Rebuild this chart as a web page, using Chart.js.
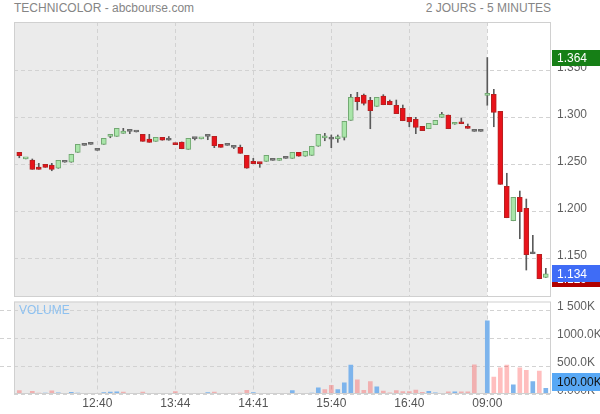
<!DOCTYPE html>
<html>
<head>
<meta charset="utf-8">
<script src="https://cdn.jsdelivr.net/npm/chart.js@4.4.1/dist/chart.umd.min.js"></script>
<style>
  body{margin:0;background:#fff;width:600px;height:414px;position:relative;overflow:hidden;font-family:"Liberation Sans",Arial,sans-serif;}
  .txt{position:absolute;font-size:12px;line-height:14px;color:#858585;white-space:nowrap;}
  #priceBox{position:absolute;left:0;top:0;width:600px;height:298px;}
  #volBox{position:absolute;left:0;top:298px;width:600px;height:116px;}
</style>
</head>
<body>
<div class="txt" style="left:14px;top:1px;">TECHNICOLOR - abcbourse.com</div>
<div class="txt" style="right:49px;top:1px;">2 JOURS - 5 MINUTES</div>
<div id="priceBox"><canvas id="priceChart"></canvas></div>
<div id="volBox"><canvas id="volChart"></canvas></div>
<div class="txt" style="left:19px;top:303px;color:#8ec1f0;">VOLUME</div>
<script>
// 5 minute candles, two sessions (index 72 = 09:00 of the second day)
const opens  = [1.2632,1.2562,1.2550,1.2476,1.2504,1.2494,1.2462,1.2526,1.2526,1.2632,
                1.2706,1.2717,1.2653,1.2717,1.2802,1.2802,1.2834,1.2855,1.2848,1.2823,
                1.2773,1.2749,1.2791,1.2760,1.2731,1.2742,1.2664,1.2777,1.2775,1.2802,
                1.2802,1.2717,1.2706,1.2685,1.2685,1.2600,1.2536,1.2526,1.2536,1.2547,
                1.2547,1.2568,1.2568,1.2632,1.2590,1.2600,1.2696,1.2785,1.2773,1.2777,
                1.2791,1.2972,1.3217,1.3241,1.3185,1.3121,1.3231,1.3174,1.3132,1.3100,
                1.3004,1.2983,1.2908,1.2883,1.2926,1.3004,1.3029,1.2930,1.2954,1.2908,
                1.2855,1.2855,1.3238,1.3249,1.3068,1.2270,1.1904,1.2153,1.2036,1.1553,
                1.1547,1.1300];
const highs  = [1.2632,1.2566,1.2561,1.2515,1.2504,1.2515,1.2547,1.2526,1.2611,1.2717,
                1.2706,1.2717,1.2653,1.2781,1.2823,1.2887,1.2887,1.2855,1.2848,1.2823,
                1.2823,1.2791,1.2791,1.2800,1.2731,1.2742,1.2781,1.2777,1.2779,1.2802,
                1.2802,1.2717,1.2706,1.2685,1.2709,1.2600,1.2568,1.2526,1.2600,1.2547,
                1.2568,1.2568,1.2632,1.2632,1.2643,1.2696,1.2823,1.2834,1.2816,1.2816,
                1.2962,1.3249,1.3270,1.3252,1.3217,1.3217,1.3245,1.3188,1.3188,1.3135,
                1.3004,1.3004,1.2908,1.2940,1.2972,1.3057,1.3029,1.2951,1.2997,1.2933,
                1.2855,1.2855,1.3640,1.3302,1.3068,1.2409,1.2153,1.2220,1.2135,1.1749,
                1.1547,1.1398];
const lows   = [1.2574,1.2562,1.2451,1.2451,1.2472,1.2436,1.2462,1.2526,1.2526,1.2632,
                1.2706,1.2717,1.2653,1.2717,1.2787,1.2802,1.2834,1.2830,1.2848,1.2749,
                1.2738,1.2749,1.2760,1.2760,1.2713,1.2670,1.2664,1.2763,1.2775,1.2766,
                1.2681,1.2685,1.2706,1.2671,1.2621,1.2462,1.2511,1.2472,1.2536,1.2547,
                1.2547,1.2568,1.2568,1.2590,1.2590,1.2600,1.2696,1.2755,1.2681,1.2738,
                1.2763,1.2972,1.3082,1.3135,1.2883,1.3121,1.3138,1.3138,1.3043,1.2968,
                1.2904,1.2830,1.2862,1.2883,1.2926,1.3004,1.2883,1.2930,1.2936,1.2887,
                1.2855,1.2855,1.3132,1.2904,1.2291,1.1936,1.1904,1.1713,1.1380,1.1553,
                1.1287,1.1300];
const closes = [1.2596,1.2566,1.2451,1.2451,1.2472,1.2451,1.2547,1.2526,1.2611,1.2717,
                1.2706,1.2717,1.2653,1.2781,1.2823,1.2887,1.2859,1.2855,1.2848,1.2749,
                1.2738,1.2791,1.2760,1.2760,1.2713,1.2670,1.2781,1.2777,1.2779,1.2802,
                1.2702,1.2685,1.2706,1.2685,1.2621,1.2462,1.2511,1.2511,1.2600,1.2547,
                1.2568,1.2568,1.2632,1.2590,1.2643,1.2696,1.2823,1.2789,1.2773,1.2791,
                1.2962,1.3217,1.3170,1.3153,1.3074,1.3217,1.3138,1.3138,1.3043,1.2968,
                1.2954,1.2898,1.2862,1.2940,1.2972,1.3036,1.2883,1.2951,1.2936,1.2887,
                1.2855,1.2855,1.3252,1.3057,1.2291,1.1936,1.2153,1.2000,1.1543,1.1553,
                1.1287,1.1340];
// volume in thousands of shares
const volumes = [60,10,50,15,15,55,20,5,30,15, 5,5,5,25,35,40,35,10,5,35,
                 10,5,5,5,45,10,10,5,5,25, 35,10,10,10,15,65,25,10,10,5,
                 5,5,60,10,10,15,112,77,154,77, 202,518,255,64,220,130,53,20,60,45,
                 45,70,30,50,20,10,40,40,40,40, 520,0,1309,303,470,518,166,470,422,220,
                 411,100];

const tickIdx = [12,24,36,48,60,72];
const tickLabels = ['12:40','13:44','14:41','15:40','16:40','09:00'];
const dayStart = 72;
const priceTicks = [1.15,1.2,1.25,1.3,1.35];
const volTicks = [0,500,1000,1500];
const volTickLabels = ['0.000K','500.0K','1000.0K','1 500K'];

Chart.defaults.font.family = '"Liberation Sans", Arial, sans-serif';
Chart.defaults.font.size = 12;
Chart.defaults.color = '#5f5f5f';

const idx = opens.map((o,i) => i);
const isUp = (i) => closes[i] > (i ? closes[i-1] : opens[i]);

const gridGray = '#d2d2d2';

// no extra room for the outer labels, the frame is fixed
const noPad = (axis) => {
  axis.paddingTop = 0; axis.paddingBottom = 0;
  axis.paddingLeft = 0; axis.paddingRight = 0;
};

// background split + frame
const panelBg = {
  id: 'panelBg',
  beforeDraw(chart){
    const {ctx, chartArea:a, scales:{x}} = chart;
    const split = x.getPixelForValue(dayStart);
    ctx.save();
    ctx.fillStyle = '#ebebeb';
    ctx.fillRect(a.left, a.top, split - a.left, a.bottom - a.top);
    ctx.restore();
  },
  afterDraw(chart){
    const {ctx, chartArea:a} = chart;
    ctx.save();
    ctx.strokeStyle = '#d0d0d0';
    ctx.lineWidth = 1;
    ctx.strokeRect(a.left + 0.5, a.top + 0.5, a.right - a.left - 1, a.bottom - a.top - 1);
    ctx.restore();
  }
};

function valueBox(ctx, y, h, color, text, textColor){
  ctx.fillStyle = color;
  ctx.fillRect(552, Math.round(y - h/2), 48, h);
  ctx.fillStyle = textColor;
  ctx.font = '12px "Liberation Sans", Arial, sans-serif';
  ctx.textBaseline = 'middle';
  ctx.textAlign = 'left';
  ctx.fillText(text, 557, Math.round(y) + 1);
}

const priceLabels = {
  id: 'priceLabels',
  afterDraw(chart){
    const {ctx, scales:{y}} = chart;
    const lo = Math.min(...lows), hi = Math.max(...highs), last = closes[closes.length-1];
    ctx.save();
    valueBox(ctx, y.getPixelForValue(lo), 16, '#b00000', lo.toFixed(3), '#fff');
    valueBox(ctx, y.getPixelForValue(last), 17, '#3f6cf6', last.toFixed(3), '#fff');
    valueBox(ctx, y.getPixelForValue(hi), 16, '#167f16', hi.toFixed(3), '#fff');
    ctx.restore();
  }
};

const volLabels = {
  id: 'volLabels',
  afterDraw(chart){
    const {ctx, chartArea:a, scales:{y}} = chart;
    ctx.save();
    // grid stubs left of the frame
    ctx.strokeStyle = gridGray;
    ctx.setLineDash([4,3]);
    volTicks.slice(1).forEach(t => {
      const py = Math.round(y.getPixelForValue(t)) + 0.5;
      ctx.beginPath(); ctx.moveTo(0, py); ctx.lineTo(a.left, py); ctx.stroke();
    });
    ctx.setLineDash([]);
    const last = volumes[volumes.length-1];
    const py = Math.min(y.getPixelForValue(last), a.bottom - 12);
    valueBox(ctx, py, 18, '#58a8f5', last.toFixed(2) + 'K', '#111');
    ctx.restore();
  }
};

const xAxis = (showLabels) => ({
  type: 'linear',
  min: -0.815,
  max: 81.8,
  offset: false,
  afterBuildTicks: (axis) => { axis.ticks = tickIdx.map(v => ({value: v})); },
  afterFit: (axis) => { axis.height = showLabels ? 20 : 0; noPad(axis); },
  grid: { color: gridGray, drawTicks: false, offset: false },
  border: { display: false, dash: [4,3] },
  ticks: {
    display: showLabels,
    padding: 2,
    color: '#555',
    callback: (v, i) => tickLabels[i]
  }
});

// price chart
const bodyData = idx.map(i => ({x: i, y: [opens[i], closes[i]]}));
const wickData = idx.map(i => ({x: i, y: [lows[i], highs[i]]}));

const configPrice = {
  type: 'bar',
  data: {
    datasets: [{
      label: 'body',
      data: bodyData,
      grouped: false,
      order: 0,
      barThickness: 5,
      minBarLength: 2,
      borderWidth: 1,
      borderSkipped: false,
      backgroundColor: idx.map(i => opens[i] === closes[i] ? '#6a6a6a' : closes[i] > opens[i] ? '#a9e5a9' : '#e8131b'),
      borderColor: idx.map(i => opens[i] === closes[i] ? '#6a6a6a' : closes[i] > opens[i] ? '#72a872' : '#b42222')
    }, {
      label: 'wick',
      data: wickData,
      grouped: false,
      order: 1,
      barThickness: 1,
      backgroundColor: '#5a5a5a'
    }]
  },
  options: {
    responsive: true,
    maintainAspectRatio: false,
    animation: false,
    layout: { padding: { left: 14, right: 0, top: 22, bottom: 1 } },
    scales: {
      x: xAxis(false),
      y: {
        position: 'right',
        min: 1.1093,
        max: 1.4018,
        afterBuildTicks: (axis) => { axis.ticks = priceTicks.map(v => ({value: v})); },
        afterFit: (axis) => { axis.width = 49; noPad(axis); },
        grid: { color: gridGray, drawTicks: false },
        border: { display: false, dash: [4,3] },
        ticks: { padding: 6, labelOffset: -3, color: '#5f5f5f', callback: (v) => v.toFixed(3) }
      }
    },
    plugins: { legend: { display: false }, tooltip: { enabled: false } }
  },
  plugins: [panelBg, priceLabels]
};

// volume chart
const configVol = {
  type: 'bar',
  data: {
    datasets: [{
      label: 'volume',
      data: idx.map(i => ({x: i, y: volumes[i]})),
      barThickness: 4,
      backgroundColor: idx.map(i => isUp(i) ? '#7db4ec' : 'rgba(255,40,40,0.3)')
    }]
  },
  options: {
    responsive: true,
    maintainAspectRatio: false,
    animation: false,
    layout: { padding: { left: 14, right: 0, top: 3.5, bottom: 0 } },
    scales: {
      x: xAxis(true),
      y: {
        position: 'right',
        min: 0,
        max: 1655,
        afterBuildTicks: (axis) => { axis.ticks = volTicks.map(v => ({value: v})); },
        afterFit: (axis) => { axis.width = 49; noPad(axis); },
        grid: { color: gridGray, drawTicks: false },
        border: { display: false, dash: [4,3] },
        ticks: { padding: 6, labelOffset: -3, color: '#5f5f5f', callback: (v, i) => volTickLabels[i] }
      }
    },
    plugins: { legend: { display: false }, tooltip: { enabled: false } }
  },
  plugins: [panelBg, volLabels]
};

const priceChart = new Chart(document.getElementById('priceChart'), configPrice);
const volChart = new Chart(document.getElementById('volChart'), configVol);
</script>
</body>
</html>
